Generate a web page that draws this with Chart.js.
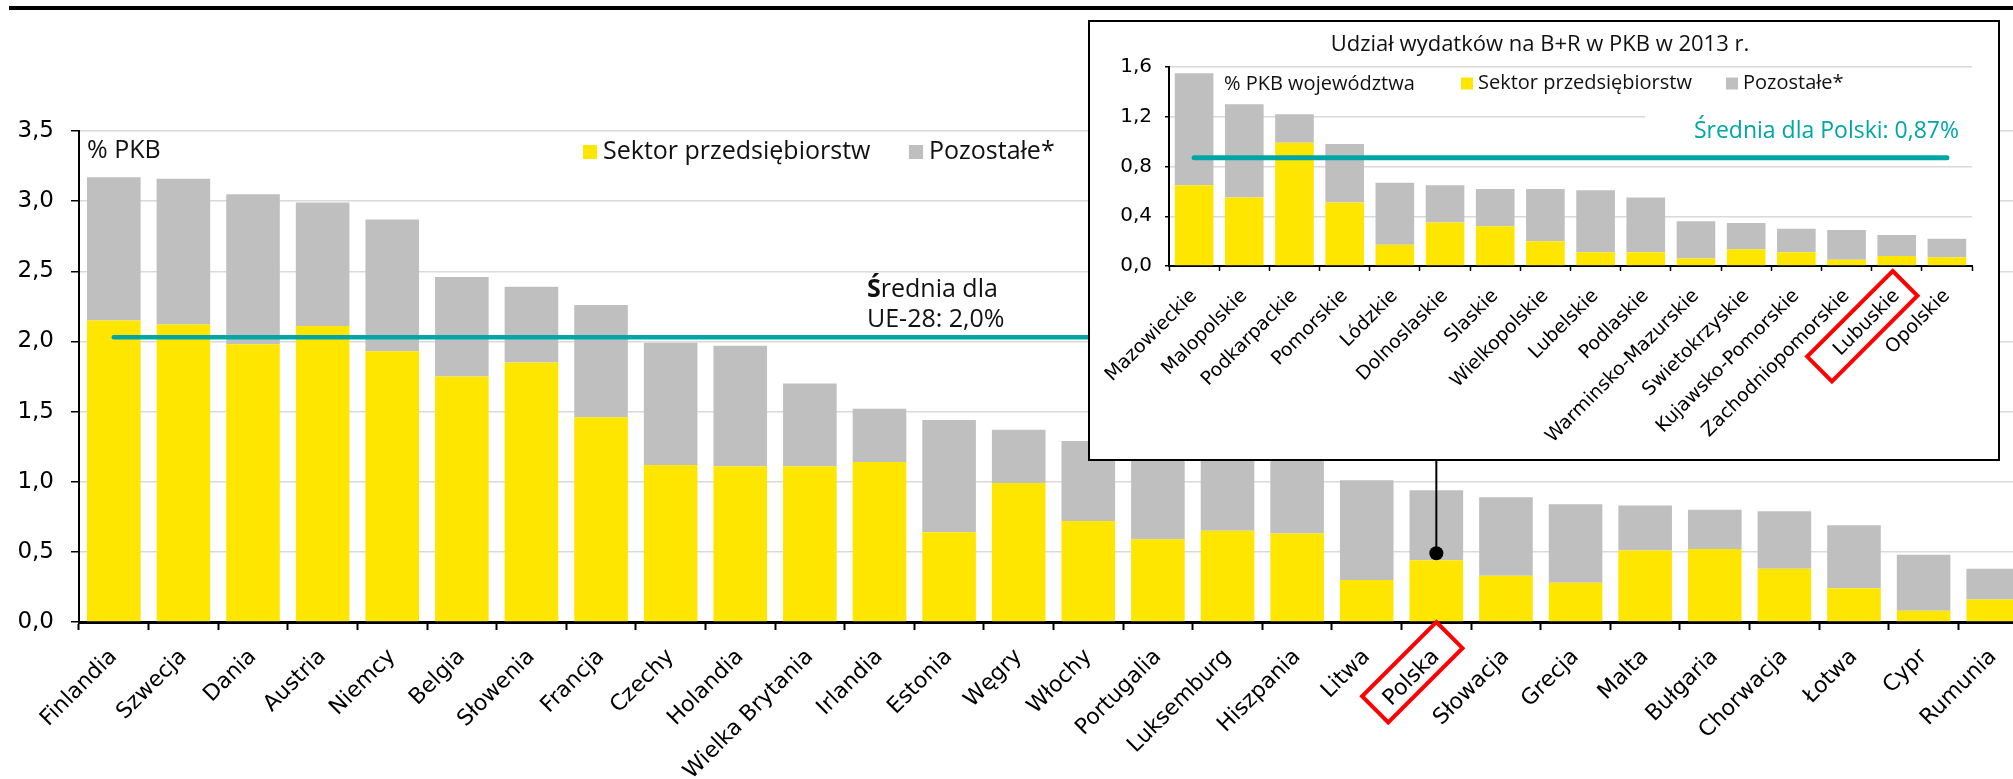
<!DOCTYPE html>
<html>
<head>
<meta charset="utf-8">
<script src="https://cdn.jsdelivr.net/npm/chart.js@4.4.1/dist/chart.umd.min.js"></script>
<style>
html,body{margin:0;padding:0;background:#fff;overflow:hidden;width:2013px;height:779px;}
#main{position:absolute;left:0;top:0;}
#insetBox{position:absolute;left:1088px;top:20px;width:912px;height:441px;box-sizing:border-box;border:2px solid #000;background:#fff;}
#inset{position:absolute;left:0;top:0;}
</style>
</head>
<body>
<canvas id="main" width="2040" height="779" style="width:2040px;height:779px"></canvas>
<div id="insetBox"><canvas id="inset" width="908" height="437" style="width:908px;height:437px"></canvas></div>
<script>
// ---------------- DATA: main chart (EU countries, % PKB) ----------------
const countries = ['Finlandia','Szwecja','Dania','Austria','Niemcy','Belgia','Słowenia','Francja','Czechy','Holandia','Wielka Brytania','Irlandia','Estonia','Węgry','Włochy','Portugalia','Luksemburg','Hiszpania','Litwa','Polska','Słowacja','Grecja','Malta','Bułgaria','Chorwacja','Łotwa','Cypr','Rumunia'];
const businessEU = [2.15,2.12,1.98,2.11,1.93,1.75,1.85,1.46,1.12,1.11,1.11,1.14,0.64,0.99,0.72,0.59,0.65,0.63,0.30,0.44,0.33,0.28,0.51,0.52,0.38,0.24,0.08,0.16];
const otherEU    = [1.02,1.04,1.07,0.88,0.94,0.71,0.54,0.80,0.87,0.86,0.59,0.38,0.80,0.38,0.57,0.77,0.51,0.61,0.71,0.50,0.56,0.56,0.32,0.28,0.41,0.45,0.40,0.22];
const euAverage = 2.03;
const mainYTickLabels = ['0,0','0,5','1,0','1,5','2,0','2,5','3,0','3,5'];
const mainUnitLabel = '% PKB';
const euAvgLabel = ['Średnia dla', 'UE-28: 2,0%'];
const highlightCountry = 'Polska';

// ---------------- DATA: inset (voivodeships, 2013) ----------------
const regions = ['Mazowieckie','Malopolskie','Podkarpackie','Pomorskie','Lódzkie','Dolnoslaskie','Slaskie','Wielkopolskie','Lubelskie','Podlaskie','Warminsko-Mazurskie','Swietokrzyskie','Kujawsko-Pomorskie','Zachodniopomorskie','Lubuskie','Opolskie'];
const businessPL = [0.65,0.55,0.99,0.51,0.17,0.35,0.32,0.20,0.11,0.11,0.06,0.135,0.11,0.05,0.08,0.07];
const otherPL    = [0.90,0.75,0.23,0.47,0.50,0.30,0.30,0.42,0.50,0.44,0.30,0.21,0.19,0.24,0.17,0.15];
const plAverage = 0.87;
const insetYTickLabels = ['0,0','0,4','0,8','1,2','1,6'];
const insetTitle = 'Udział wydatków na B+R w PKB w 2013 r.';
const insetUnitLabel = '% PKB województwa';
const plAvgLabel = 'Średnia dla Polski: 0,87%';
const highlightRegion = 'Lubuskie';

// ---------------- STYLE ----------------
const YELLOW = '#ffe600';
const GRAY = '#bfbfbf';
const TEAL = '#00a6a6';
const TEXT = '#111111';
const RED = '#ff0000';
const INSET_BOTTOM = 461;
const SANS = '"Open Sans", "Liberation Sans", sans-serif';
const LBL = '"DejaVu Sans", sans-serif';

Chart.defaults.font.family = LBL;
Chart.defaults.color = '#000';

function tiltedBox(ctx, tx, ty, len, thick) {
  const s = Math.SQRT1_2;
  const p1 = [tx + thick * s, ty + thick * s];
  const p2 = [p1[0] - len * s, p1[1] + len * s];
  const p3 = [tx - len * s, ty + len * s];
  ctx.beginPath();
  ctx.moveTo(tx, ty); ctx.lineTo(p1[0], p1[1]); ctx.lineTo(p2[0], p2[1]); ctx.lineTo(p3[0], p3[1]);
  ctx.closePath();
  ctx.stroke();
}

function legendItem(ctx, x, yMid, box, color, text, gap) {
  ctx.fillStyle = color;
  ctx.fillRect(x, yMid - box / 2, box, box);
  ctx.fillStyle = TEXT;
  ctx.textBaseline = 'middle';
  ctx.fillText(text, x + box + gap, yMid);
}

// ---------------- MAIN CHART ----------------
const mainDecor = {
  id: 'mainDecor',
  afterDatasetsDraw(chart) {
    const { ctx } = chart;
    const x = chart.scales.x, y = chart.scales.y;
    const ds = chart.data.datasets;
    ctx.save();
    // top rule
    ctx.fillStyle = '#000';
    ctx.fillRect(9, 6, chart.width, 4);
    // connector to inset
    const pi = countries.indexOf(highlightCountry);
    const px = x.getPixelForValue(pi);
    const dotY = y.getPixelForValue(businessEU[pi]) - 7;
    ctx.strokeStyle = '#000';
    ctx.lineWidth = 2;
    ctx.beginPath(); ctx.moveTo(px, INSET_BOTTOM); ctx.lineTo(px, dotY); ctx.stroke();
    ctx.beginPath(); ctx.arc(px, dotY, 7, 0, Math.PI * 2); ctx.fill();
    // unit label
    ctx.font = '25px ' + SANS;
    ctx.fillStyle = TEXT;
    ctx.textAlign = 'left';
    ctx.textBaseline = 'alphabetic';
    ctx.fillText(mainUnitLabel, 87, 158);
    // legend
    legendItem(ctx, 583, 152, 14, ds[1].backgroundColor, ds[1].label, 6);
    legendItem(ctx, 909, 152, 14, ds[2].backgroundColor, ds[2].label, 6);
    // average annotation
    ctx.textBaseline = 'alphabetic';
    ctx.fillStyle = TEXT;
    const first = euAvgLabel[0].charAt(0);
    ctx.font = 'bold 25px ' + SANS;
    ctx.fillText(first, 867, 297);
    const w = ctx.measureText(first).width;
    ctx.font = '25px ' + SANS;
    ctx.fillText(euAvgLabel[0].slice(1), 867 + w, 297);
    ctx.fillText(euAvgLabel[1], 867, 327);
    ctx.restore();
  },
  afterDraw(chart) {
    const { ctx } = chart;
    const x = chart.scales.x;
    const pi = countries.indexOf(highlightCountry);
    ctx.save();
    ctx.strokeStyle = RED;
    ctx.lineWidth = 4;
    ctx.lineJoin = 'miter';
    tiltedBox(ctx, x.getPixelForValue(pi), chart.chartArea.bottom, 105, 37);
    ctx.restore();
  }
};

new Chart(document.getElementById('main'), {
  type: 'bar',
  data: {
    labels: countries,
    datasets: [
      { type: 'line', label: 'Średnia UE-28', data: countries.map(() => euAverage), borderColor: TEAL, borderWidth: 4.5, borderCapStyle: 'round', pointRadius: 0, fill: false, order: 0 },
      { type: 'bar', label: 'Sektor przedsiębiorstw', data: businessEU, backgroundColor: YELLOW, barPercentage: 0.77, categoryPercentage: 1, order: 1 },
      { type: 'bar', label: 'Pozostałe*', data: otherEU, backgroundColor: GRAY, barPercentage: 0.77, categoryPercentage: 1, order: 1 }
    ]
  },
  options: {
    responsive: false,
    animation: false,
    devicePixelRatio: 1,
    layout: { padding: { left: 0, top: 131, right: 12, bottom: 0 }, autoPadding: false },
    plugins: { legend: { display: false }, tooltip: { enabled: false }, title: { display: false } },
    scales: {
      x: {
        stacked: true,
        grid: { offset: true, drawOnChartArea: false, drawTicks: true, tickLength: 8, tickColor: '#000', tickWidth: 2 },
        border: { display: true, color: '#000', width: 3 },
        ticks: { autoSkip: false, minRotation: 45, maxRotation: 45, padding: 14, color: '#000', font: { family: LBL, size: 22 } },
        afterFit: s => { s.height = 157; s.paddingLeft = 0; s.paddingRight = 0; }
      },
      y: {
        stacked: true, min: 0, max: 3.5,
        ticks: { stepSize: 0.5, padding: 17, color: '#000', font: { family: LBL, size: 23 }, callback: (v, i) => mainYTickLabels[i] },
        grid: { color: '#d9d9d9', lineWidth: 1.5, tickColor: '#000', tickLength: 8, tickWidth: 1.5 },
        border: { display: true, color: '#000', width: 2 },
        afterFit: s => { s.width = 79; s.paddingTop = 0; s.paddingBottom = 0; }
      }
    }
  },
  plugins: [mainDecor]
});

// ---------------- INSET CHART ----------------
const insetDecor = {
  id: 'insetDecor',
  afterDraw(chart) {
    const { ctx } = chart;
    const x = chart.scales.x;
    const ds = chart.data.datasets;
    ctx.save();
    // title
    ctx.fillStyle = TEXT;
    ctx.font = '22px ' + SANS;
    ctx.textAlign = 'center';
    ctx.textBaseline = 'middle';
    ctx.fillText(insetTitle, 450, 23);
    // unit label + legend
    ctx.textAlign = 'left';
    ctx.font = '20px ' + SANS;
    ctx.fillText(insetUnitLabel, 134, 62);
    legendItem(ctx, 371, 61.5, 12, ds[1].backgroundColor, ds[1].label, 5);
    legendItem(ctx, 636, 61.5, 12, ds[2].backgroundColor, ds[2].label, 5);
    // average label with white background
    ctx.fillStyle = '#fff';
    ctx.fillRect(555, 86, 340, 36);
    ctx.fillStyle = TEAL;
    ctx.font = '23px ' + SANS;
    ctx.textAlign = 'right';
    ctx.textBaseline = 'alphabetic';
    ctx.fillText(plAvgLabel, 869, 116);
    // highlight box
    const ri = regions.indexOf(highlightRegion);
    ctx.strokeStyle = RED;
    ctx.lineWidth = 4;
    tiltedBox(ctx, x.getPixelForValue(ri) - 4, chart.chartArea.bottom + 5, 121, 35);
    ctx.restore();
  }
};

new Chart(document.getElementById('inset'), {
  type: 'bar',
  data: {
    labels: regions,
    datasets: [
      { type: 'line', label: 'Średnia dla Polski', data: regions.map(() => plAverage), borderColor: TEAL, borderWidth: 5, borderCapStyle: 'round', pointRadius: 0, fill: false, order: 0 },
      { type: 'bar', label: 'Sektor przedsiębiorstw', data: businessPL, backgroundColor: YELLOW, barPercentage: 0.77, categoryPercentage: 1, order: 1 },
      { type: 'bar', label: 'Pozostałe*', data: otherPL, backgroundColor: GRAY, barPercentage: 0.77, categoryPercentage: 1, order: 1 }
    ]
  },
  options: {
    responsive: false,
    animation: false,
    devicePixelRatio: 1,
    layout: { padding: { left: 0, top: 45, right: 26, bottom: 0 }, autoPadding: false },
    plugins: { legend: { display: false }, tooltip: { enabled: false }, title: { display: false } },
    scales: {
      x: {
        stacked: true,
        grid: { offset: true, drawOnChartArea: false, drawTicks: true, tickLength: 5, tickColor: '#000', tickWidth: 1.5 },
        border: { display: true, color: '#000', width: 2 },
        ticks: { autoSkip: false, minRotation: 45, maxRotation: 45, padding: 14, color: '#000', font: { family: LBL, size: 19 } },
        afterFit: s => { s.height = 193; s.paddingLeft = 0; s.paddingRight = 0; }
      },
      y: {
        stacked: true, min: 0, max: 1.6,
        ticks: { stepSize: 0.4, padding: 13, color: '#000', font: { family: LBL, size: 20 }, callback: (v, i) => insetYTickLabels[i] },
        grid: { color: '#d9d9d9', lineWidth: 1.5, tickColor: '#000', tickLength: 4, tickWidth: 1.5 },
        border: { display: true, color: '#000', width: 2 },
        afterFit: s => { s.width = 79; s.paddingTop = 0; s.paddingBottom = 0; }
      }
    }
  },
  plugins: [insetDecor]
});
</script>
</body>
</html>
